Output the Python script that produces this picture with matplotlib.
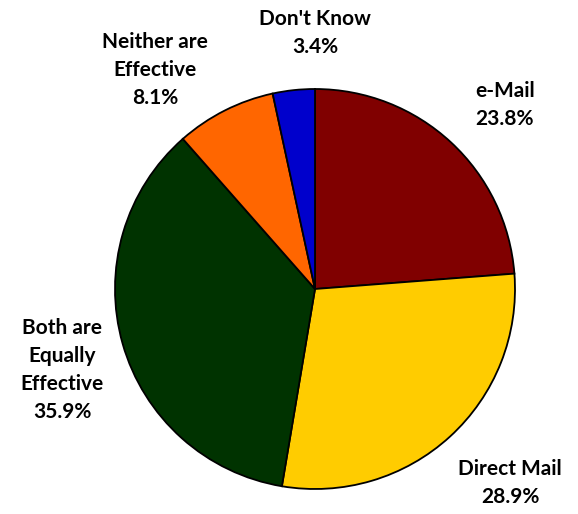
import matplotlib
matplotlib.use('Agg')
import matplotlib.pyplot as plt

# data
labels = ['e-Mail', 'Direct Mail', 'Both are\nEqually\nEffective', 'Neither are\nEffective', "Don't Know"]
values = [23.8, 28.9, 35.9, 8.1, 3.4]
colors = ['#800000', '#FFCC00', '#003300', '#FF6600', '#0000CC']

# where each label sits (data units, pie radius = 1)
label_pos = [(0.95, 0.92), (0.975, -0.97), (-1.265, -0.405), (-0.8, 1.095), (0.0, 1.28)]

plt.rcParams['font.family'] = ['Lato', 'DejaVu Sans']

fig = plt.figure(figsize=(5.78, 5.14), dpi=100)
ax = fig.add_axes([0, 0, 1, 1])
ax.pie(values, colors=colors, startangle=90, counterclock=False, radius=1,
       wedgeprops=dict(edgecolor='black', linewidth=1.3))
ax.set_xlim(-1.575, 1.315)
ax.set_ylim(-1.125, 1.445)
ax.set_aspect('equal')
ax.axis('off')

for lab, v, (x, y) in zip(labels, values, label_pos):
    ax.text(x, y, f'{lab}\n{v:.1f}%', ha='center', va='center',
            fontsize=15, fontweight='bold', linespacing=1.5)

fig.savefig('out.png', dpi=100)
